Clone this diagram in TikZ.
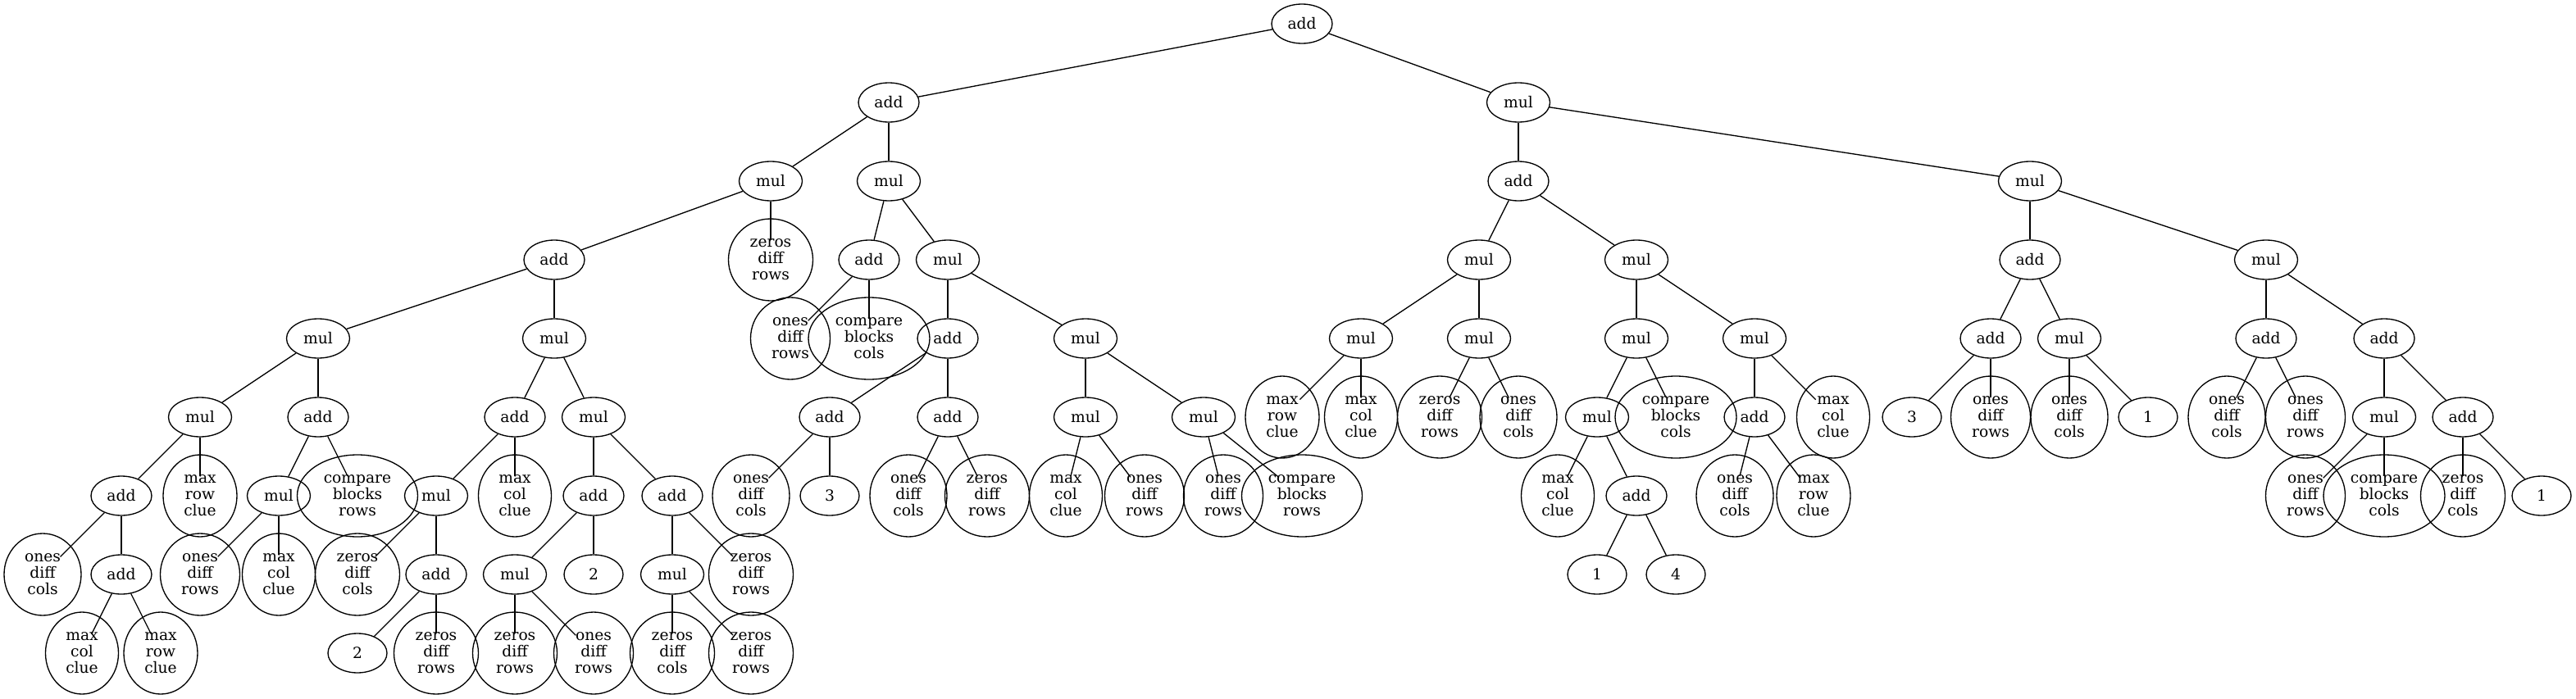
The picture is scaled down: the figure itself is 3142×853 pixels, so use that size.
\documentclass[tikz,border=0pt]{standalone}
\usepackage{fontspec}
\setmainfont{DejaVu Serif}
\usetikzlibrary{shapes.geometric}
\tikzset{
  base/.style={ellipse, draw, line width=1pt, inner sep=0pt, align=center, font=\fontsize{14pt}{15pt}\selectfont},
  opa/.style={base, minimum width=55.5pt, minimum height=36pt},
  opm/.style={base, minimum width=57.75pt, minimum height=36pt},
  num/.style={base, minimum width=54pt, minimum height=36pt},
  leafbox/.style={base, minimum height=75pt},
  clipbox/.style={ellipse, inner sep=0pt, minimum height=36pt},
  edge/.style={line width=1pt}
}
\newcommand\leafnode[5]{\node[leafbox, minimum width=#4] (#1v) at (#2,#3) {#5};\node[clipbox, minimum width=#4] (#1) at (#2,#3) {};}
\newcommand\lfmrc[3]{\leafnode{#1}{#2}{#3}{67.5pt}{max\\row\\clue}}
\newcommand\lfmcc[3]{\leafnode{#1}{#2}{#3}{66.75pt}{max\\col\\clue}}
\newcommand\lfodc[3]{\leafnode{#1}{#2}{#3}{70.5pt}{ones\\diff\\cols}}
\newcommand\lfodr[3]{\leafnode{#1}{#2}{#3}{72.75pt}{ones\\diff\\rows}}
\newcommand\lfzdc[3]{\leafnode{#1}{#2}{#3}{77.25pt}{zeros\\diff\\cols}}
\newcommand\lfzdr[3]{\leafnode{#1}{#2}{#3}{77.25pt}{zeros\\diff\\rows}}
\newcommand\lfcbr[3]{\leafnode{#1}{#2}{#3}{110.25pt}{compare\\blocks\\rows}}
\newcommand\lfcbc[3]{\leafnode{#1}{#2}{#3}{111pt}{compare\\blocks\\cols}}
\begin{document}
\begin{tikzpicture}[x=0.75pt,y=-0.75pt]
\useasboundingbox (0,0) rectangle (3142,853);
% level 0-1
\node[opa] (r) at (1588,29) {add};
\node[opa] (a1) at (1084,125) {add};
\node[opm] (m1) at (1852,125) {mul};
% level 2
\node[opm] (b1) at (940,221) {mul};
\node[opm] (b2) at (1084,221) {mul};
\node[opa] (b3) at (1852,221) {add};
\node[opm] (b4) at (2476,221) {mul};
% level 3
\node[opa] (c1) at (676,317) {add};
\lfzdr{c2}{940}{317}
\node[opa] (c3) at (1060,317) {add};
\node[opm] (c4) at (1156,317) {mul};
\node[opm] (c5) at (1804,317) {mul};
\node[opm] (c6) at (1996,317) {mul};
\node[opa] (c7) at (2476,317) {add};
\node[opm] (c8) at (2764,317) {mul};
% level 4
\node[opm] (d1) at (388,413) {mul};
\node[opm] (d2) at (676,413) {mul};
\lfodr{d3}{964}{413}
\lfcbc{d4}{1060}{413}
\node[opa] (d5) at (1156,413) {add};
\node[opm] (d6) at (1324,413) {mul};
\node[opm] (d7) at (1660,413) {mul};
\node[opm] (d8) at (1804,413) {mul};
\node[opm] (d9) at (1996,413) {mul};
\node[opm] (d10) at (2140,413) {mul};
\node[opa] (d11) at (2428,413) {add};
\node[opm] (d12) at (2524,413) {mul};
\node[opa] (d13) at (2764,413) {add};
\node[opa] (d14) at (2908,413) {add};
% level 5
\node[opm] (e1) at (244,509) {mul};
\node[opa] (e2) at (388,509) {add};
\node[opa] (e3) at (628,509) {add};
\node[opm] (e4) at (724,509) {mul};
\node[opa] (e5) at (1012,509) {add};
\node[opa] (e6) at (1156,509) {add};
\node[opm] (e7) at (1324,509) {mul};
\node[opm] (e8) at (1468,509) {mul};
\lfmrc{e9}{1564}{509}
\lfmcc{e10}{1660}{509}
\lfzdr{e11}{1756}{509}
\lfodc{e12}{1852}{509}
\node[opm] (e13) at (1948,509) {mul};
\lfcbc{e14}{2044}{509}
\node[opa] (e15) at (2140,509) {add};
\lfmcc{e16}{2236}{509}
\node[num] (e17) at (2332,509) {3};
\lfodr{e18}{2428}{509}
\lfodc{e19}{2524}{509}
\node[num] (e20) at (2620,509) {1};
\lfodc{e21}{2716}{509}
\lfodr{e22}{2812}{509}
\node[opm] (e23) at (2908,509) {mul};
\node[opa] (e24) at (3004,509) {add};
% level 6
\node[opa] (f1) at (148,605) {add};
\lfmrc{f2}{244}{605}
\node[opm] (f3) at (340,605) {mul};
\lfcbr{f4}{436}{605}
\node[opm] (f5) at (532,605) {mul};
\lfmcc{f6}{628}{605}
\node[opa] (f7) at (724,605) {add};
\node[opa] (f8) at (820,605) {add};
\lfodc{f9}{916}{605}
\node[num] (f10) at (1012,605) {3};
\lfodc{f11}{1108}{605}
\lfzdr{f12}{1204}{605}
\lfmcc{f13}{1300}{605}
\lfodr{f14}{1396}{605}
\lfodr{f15}{1492}{605}
\lfcbr{f16}{1588}{605}
\lfmcc{f17}{1900}{605}
\node[opa] (f18) at (1996,605) {add};
\lfodc{f19}{2116}{605}
\lfmrc{f20}{2212}{605}
\lfodr{f21}{2812}{605}
\lfcbc{f22}{2908}{605}
\lfzdc{f23}{3004}{605}
\node[num] (f24) at (3100,605) {1};
% level 7
\lfodc{g1}{52}{701}
\node[opa] (g2) at (148,701) {add};
\lfodr{g3}{244}{701}
\lfmcc{g4}{340}{701}
\lfzdc{g5}{436}{701}
\node[opa] (g6) at (532,701) {add};
\node[opm] (g7) at (628,701) {mul};
\node[num] (g8) at (724,701) {2};
\node[opm] (g9) at (820,701) {mul};
\lfzdr{g10}{916}{701}
\node[num] (g11) at (1948,701) {1};
\node[num] (g12) at (2044,701) {4};
% level 8
\lfmcc{h1}{100}{797}
\lfmrc{h2}{196}{797}
\node[num] (h3) at (436,797) {2};
\lfzdr{h4}{532}{797}
\lfzdr{h5}{628}{797}
\lfodr{h6}{724}{797}
\lfzdc{h7}{820}{797}
\lfzdr{h8}{916}{797}
% edges
\foreach \p/\c in {r/a1,r/m1,a1/b1,a1/b2,b1/c1,b1/c2,b2/c3,b2/c4,c1/d1,c1/d2,c3/d3,c3/d4,c4/d5,c4/d6,
  d1/e1,d1/e2,d2/e3,d2/e4,d5/e5,d5/e6,d6/e7,d6/e8,e1/f1,e1/f2,e2/f3,e2/f4,e3/f5,e3/f6,e4/f7,e4/f8,
  e5/f9,e5/f10,e6/f11,e6/f12,e7/f13,e7/f14,e8/f15,e8/f16,f1/g1,f1/g2,f3/g3,f3/g4,f5/g5,f5/g6,
  f7/g7,f7/g8,f8/g9,f8/g10,g2/h1,g2/h2,g6/h3,g6/h4,g7/h5,g7/h6,g9/h7,g9/h8,
  m1/b3,m1/b4,b3/c5,b3/c6,b4/c7,b4/c8,c5/d7,c5/d8,c6/d9,c6/d10,c7/d11,c7/d12,c8/d13,c8/d14,
  d7/e9,d7/e10,d8/e11,d8/e12,d9/e13,d9/e14,d10/e15,d10/e16,d11/e17,d11/e18,d12/e19,d12/e20,
  d13/e21,d13/e22,d14/e23,d14/e24,e13/f17,e13/f18,e15/f19,e15/f20,e23/f21,e23/f22,e24/f23,e24/f24,
  f18/g11,f18/g12}
  \draw[line width=1pt] (\p) -- (\c);
\end{tikzpicture}
\end{document}
